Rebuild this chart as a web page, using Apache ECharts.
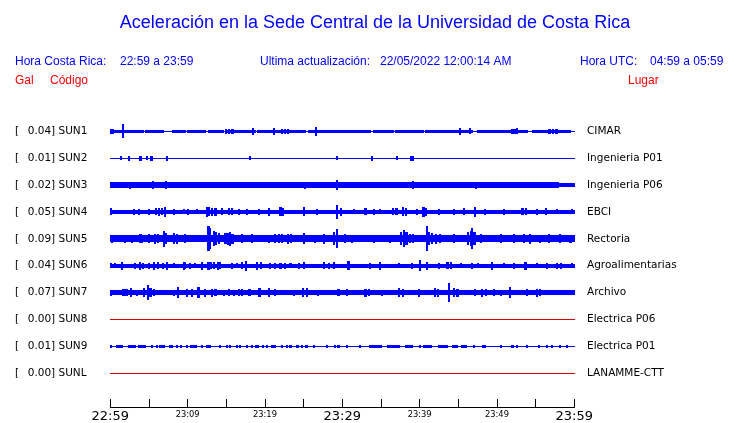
<!DOCTYPE html>
<html><head><meta charset="utf-8">
<script src="https://cdn.jsdelivr.net/npm/echarts@6/dist/echarts.min.js"></script>
<style>html,body{margin:0;padding:0;background:#fff}#c{width:740px;height:423px}</style>
</head><body><div id="c"></div><script>
// ---------------- data ----------------
const codes = ['SUN1','SUN2','SUN3','SUN4','SUN5','SUN6','SUN7','SUN8','SUN9','SUNL'];
const peakGal = ['0.04','0.01','0.02','0.05','0.09','0.04','0.07','0.00','0.01','0.00'];
const places = ['CIMAR','Ingenieria P01','Ingenieria P06','EBCI','Rectoria','Agroalimentarias','Archivo','Electrica P06','Electrica P01','LANAMME-CTT'];
const tickMinutes = [0,10,20,30,40,50,60];
const tickLabels = ['22:59','23:09','23:19','23:29','23:39','23:49','23:59'];
const majorLabels = ['22:59','23:29','23:59'];
const headerTitle = 'Aceleración en la Sede Central de la Universidad de Costa Rica';
const hdrLocalLabel = 'Hora Costa Rica:', hdrLocalRange = '22:59 a 23:59';
const hdrUpdLabel = 'Ultima actualización:', hdrUpdValue = '22/05/2022 12:00:14 AM';
const hdrUtcLabel = 'Hora UTC:', hdrUtcRange = '04:59 a 05:59';
const colGal = 'Gal', colCode = 'Código', colPlace = 'Lugar';

// traces: continuous bands [startMin, endMin, halfAmp] and bursts [min, halfAmp, durationMin]
const sun1Band = [[0,4.3,1.4],[4.5,6.9,1.4],[8.0,9.7,1.4],[10.0,12.3,1.4],[12.7,14.6,1.4],[15.1,18.8,1.4],[19.0,25.2,1.4],[25.6,30.4,1.4],[30.6,33.6,1.4],[34.0,36.6,1.4],[36.9,40.5,1.4],[40.8,46.8,1.4],[47.5,53.9,1.4],[54.6,59.5,1.4]];
const sun1Spikes = [[0.2,2.2,0.3],[1.6,6.5],[15.0,2.0],[15.4,2.2],[15.8,1.8],[18.5,3.0],[21.2,3.0],[22.2,2.0],[22.6,2.2],[23.0,1.8],[26.6,3.7],[45.2,3.0],[46.5,2.5],[52.0,2.0],[52.4,2.2],[52.6,2.5],[56.8,2.0],[57.2,2.0],[57.7,2.2]];
const sun2Band = [];
const sun2Spikes = [[1.4,1.3],[2.4,2.0],[3.9,2.0],[4.7,1.3],[5.3,2.0,0.3],[7.3,2.0],[18.1,1.3],[29.3,1.5],[33.8,2.0],[37.1,1.5],[39.0,2.0,0.3]];
const sun3Band = [[0,58,2.2],[58,60,1.6]];
const sun3Spikes = [[2.5,3.0],[3.9,2.8],[4.8,2.8],[5.5,3.2],[7.2,3.6],[25.2,3.0],[29.3,4.5],[39.1,3.2],[47.3,3.0]];
const sun4Band = [[0,60,1.7]];
const sun4Spikes = [[0.1,3.0],[3.1,2.5],[3.7,2.5],[5.0,2.5],[5.9,3.0],[6.3,3.5],[6.7,3.0],[7.1,4.8],[8.2,2.5],[9.5,2.0],[10.1,2.5],[11.2,2.0],[12.5,4.7],[12.8,4.0],[13.1,3.5],[13.6,3.5],[14.4,3.0],[15.3,3.0],[15.7,3.0],[16.6,2.5],[17.7,2.5],[19.2,2.5],[20.5,3.5],[22.0,4.0],[22.3,3.5],[25.1,4.0],[26.7,2.5],[29.3,7.0],[29.8,3.5],[31.5,2.0],[33.0,3.0],[34.1,2.5],[34.9,2.0],[36.6,3.0],[37.0,3.0],[37.9,4.0],[38.2,3.5],[39.7,2.5],[40.5,4.5],[40.8,3.5],[42.5,2.5],[44.4,2.5],[45.7,3.0],[47.2,5.0],[48.5,2.5],[50.9,2.5],[53.3,3.0],[53.8,3.0],[55.2,2.5],[56.3,3.0],[57.8,2.0],[59.7,2.0]];
const sun5Band = [[0,60,3.0]];
const sun5Spikes = [[0.2,3.5],[1.9,3.5],[2.8,3.5],[3.9,4.0],[4.1,3.8],[5.0,4.0],[5.8,4.5],[6.2,4.0],[6.9,7.5],[7.2,5.0],[8.2,5.0],[8.6,4.5],[9.7,4.0],[12.7,12.0],[12.9,10.0],[13.4,7.0],[13.7,6.0],[14.1,5.0],[14.9,5.0],[15.2,5.5],[15.5,6.5],[15.8,4.5],[17.0,4.0],[18.3,4.0],[20.5,3.5],[21.3,4.0],[21.8,4.0],[22.2,4.0],[23.0,4.5],[23.4,4.0],[25.0,5.0],[26.5,3.5],[27.6,4.5],[28.9,6.0],[29.3,9.0],[30.4,4.0],[31.3,3.5],[34.1,3.5],[36.2,3.5],[37.6,6.0],[38.0,8.0],[38.3,6.0],[38.8,4.0],[39.1,4.0],[40.9,12.0],[41.2,6.0],[41.6,5.0],[42.1,4.5],[42.6,4.0],[44.4,4.0],[46.3,6.0],[46.6,7.0],[46.8,10.0],[47.1,6.0],[47.9,4.0],[50.5,4.0],[52.2,4.0],[53.5,4.0],[54.3,4.5],[55.6,3.5],[56.7,4.0],[58.2,4.0],[59.5,3.5]];
const sun6Band = [[0,60,1.5]];
const sun6Spikes = [[0.1,2.0],[0.6,2.0],[1.5,3.5],[3.2,2.5],[3.8,3.5],[4.2,2.5],[5.0,2.5],[5.6,3.5],[6.2,3.0],[6.8,2.5],[7.3,3.5],[8.2,2.0],[9.5,3.5],[9.7,3.0],[10.3,2.5],[11.0,2.0],[11.9,3.5],[12.7,3.5],[13.0,3.0],[13.4,3.0],[13.9,3.5],[14.2,3.0],[15.7,2.5],[16.4,2.0],[17.0,3.0],[17.5,4.7],[19.0,3.5],[19.5,3.0],[20.7,2.5],[21.3,2.5],[22.0,2.5],[22.6,2.5],[23.3,2.0],[24.4,2.5],[25.1,3.0],[27.6,3.0],[28.3,2.5],[28.9,3.0],[30.8,4.0],[33.6,2.5],[34.9,3.5],[37.3,2.0],[39.0,2.5],[40.1,5.3],[41.0,3.5],[42.5,2.5],[43.6,3.0],[44.1,3.0],[45.3,2.0],[46.8,2.5],[47.6,2.0],[49.4,3.5],[50.9,2.0],[52.2,2.5],[53.7,3.5],[55.2,2.0],[56.5,2.5],[57.8,2.5],[58.3,2.5],[59.7,2.0]];
const sun7Band = [[0,60,1.7]];
const sun7Spikes = [[0.1,2.5],[0.9,2.0],[1.7,3.0],[2.1,3.0],[2.7,4.5],[3.5,2.5],[4.4,4.0],[4.9,7.5],[5.2,4.0],[5.7,3.0],[7.8,2.0],[8.2,2.5],[8.8,5.5],[9.9,3.5],[10.6,3.5],[11.4,5.0],[12.2,3.5],[13.2,3.5],[13.6,3.0],[14.7,2.5],[15.3,3.0],[16.0,2.5],[16.6,3.0],[17.0,3.0],[18.0,3.0],[19.3,4.5],[20.5,4.5],[21.3,3.0],[22.9,2.0],[23.7,2.5],[24.9,4.0],[25.4,4.0],[26.9,2.5],[29.5,3.0],[30.6,3.0],[31.9,2.0],[33.0,3.5],[33.4,3.0],[35.1,2.5],[37.3,4.0],[37.8,3.5],[39.9,3.5],[41.0,2.0],[42.0,4.0],[42.4,3.5],[43.8,9.3],[44.4,4.0],[44.9,3.5],[47.2,3.0],[48.1,3.5],[48.6,3.0],[49.6,3.0],[50.5,2.5],[51.7,5.0],[53.9,3.0],[55.2,3.5],[55.6,3.0],[57.3,2.0]];
const sun8Band = [];
const sun8Spikes = [];
const sun9Band = [];
const sun9Spikes = [[0.1,1.0],[0.9,1.0],[1.3,1.0,0.6],[2.8,1.0,0.9],[4.1,1.0,0.9],[5.4,1.0],[6.0,1.0],[6.7,1.0,0.6],[7.8,1.0,0.4],[8.6,1.0],[9.1,1.0],[9.9,1.0],[10.5,1.0],[11.0,1.0,0.4],[11.9,1.0],[12.7,1.0,0.5],[14.2,1.0],[15.1,1.0],[15.5,1.0],[16.4,1.0],[16.8,1.0],[17.7,1.0],[18.3,1.0],[19.0,1.0,0.4],[19.8,1.0],[20.3,1.0],[21.1,1.0,0.5],[22.2,1.0],[22.9,1.0],[23.3,1.0],[24.2,1.0],[24.8,1.0],[25.4,1.0,0.3],[26.3,1.0],[28.0,1.0],[29.1,1.0],[29.5,1.0],[30.6,1.0],[32.3,1.0],[33.6,1.0],[34.3,1.0,1.5],[36.6,1.0,1.6],[38.6,1.0,0.9],[40.1,1.0],[41.0,1.0,1.0],[42.5,1.0],[43.1,1.0,1.1],[44.6,1.0,0.7],[45.7,1.0,0.7],[47.0,1.0],[48.3,1.0,0.4],[50.5,1.0],[52.0,1.0],[52.6,1.0],[53.9,1.0],[55.4,1.0],[56.5,1.0],[57.1,1.0],[58.2,1.0],[59.1,1.0]];
const sunLBand = [];
const sunLSpikes = [];

// ---------------- styles ----------------
const BLUE = '#0000ff', RED = '#ff0000', TRACE_RED = '#dd0000';
const traceColors = [BLUE,BLUE,BLUE,BLUE,BLUE,BLUE,BLUE,TRACE_RED,BLUE,TRACE_RED];
const ROW_STEP = 27;      // value-axis units between trace baselines
const SPIKE_DUR = 0.15;   // default burst duration (minutes)
const LBL_FONT = 'DejaVu Sans';
const HDR_FONT = 'Liberation Sans';

const bands = [sun1Band,sun2Band,sun3Band,sun4Band,sun5Band,sun6Band,sun7Band,sun8Band,sun9Band,sunLBand];
const spikes = [sun1Spikes,sun2Spikes,sun3Spikes,sun4Spikes,sun5Spikes,sun6Spikes,sun7Spikes,sun8Spikes,sun9Spikes,sunLSpikes];

const traceData = [];
codes.forEach((c, i) => {
  traceData.push([i, 0, 60, 0]);
  bands[i].forEach(b => traceData.push([i, b[0], b[1], b[2]]));
  spikes[i].forEach(s => {
    const d = s.length > 2 ? s[2] : SPIKE_DUR;
    traceData.push([i, s[0] - d / 2, s[0] + d / 2, s[1]]);
  });
});

function renderTrace(params, api) {
  const row = api.value(0), m0 = api.value(1), m1 = api.value(2), amp = api.value(3);
  const yc = row * ROW_STEP;
  const p0 = api.coord([m0, yc - amp]);
  const p1 = api.coord([m1, yc + amp]);
  let x0 = Math.floor(Math.min(p0[0], p1[0])), x1 = Math.ceil(Math.max(p0[0], p1[0]));
  if (x1 - x0 < 1) x1 = x0 + 1;
  let y0 = Math.floor(Math.min(p0[1], p1[1])), y1 = Math.ceil(Math.max(p0[1], p1[1]));
  if (y1 - y0 < 1) y1 = y0 + 1;
  return { type: 'rect', shape: { x: x0, y: y0, width: x1 - x0, height: y1 - y0 },
           style: { fill: traceColors[row] } };
}

const chart = echarts.init(document.getElementById('c'), null, { renderer: 'canvas' });
const hdrText = (x, y, text, size, color, align) => ({
  type: 'text', x: x, y: y, silent: true,
  style: { text: text, fill: color, font: size + 'px "' + HDR_FONT + '"', align: align || 'left', verticalAlign: 'middle' }
});

chart.setOption({
  animation: false,
  backgroundColor: '#fff',
  grid: { left: 110.3, width: 464, top: 118, height: 270 },
  xAxis: {
    type: 'value', min: 0, max: 60, interval: 5, offset: 21,
    axisLine: { onZero: false, lineStyle: { color: '#000', width: 1 } },
    axisTick: { inside: true, length: 8.5, lineStyle: { color: '#000', width: 1 } },
    splitLine: { show: false },
    axisLabel: {
      margin: 1, color: '#000', showMinLabel: true, showMaxLabel: true,
      formatter: v => {
        const k = tickMinutes.indexOf(v);
        if (k < 0) return '';
        const t = tickLabels[k];
        return majorLabels.indexOf(t) >= 0 ? '{big|' + t + '}' : '{small|' + t + '}';
      },
      rich: {
        big: { fontFamily: LBL_FONT, fontSize: 13, color: '#000', lineHeight: 15, padding: [1,0,0,0] },
        small: { fontFamily: LBL_FONT, fontSize: 8.3, color: '#000', lineHeight: 12, padding: [1,0,0,0] }
      }
    }
  },
  yAxis: [
    { type: 'category', data: codes, inverse: true, position: 'left',
      axisLine: { show: false }, axisTick: { show: false }, splitLine: { show: false },
      axisLabel: { align: 'left', margin: 95.3, color: '#000', fontFamily: LBL_FONT, fontSize: 10.5,
        formatter: (v) => { const i = codes.indexOf(v); return '{br|[}' + peakGal[i] + '] ' + v; },
        rich: { br: { width: 12.7, fontFamily: LBL_FONT, fontSize: 10.5, color: '#000' } } } },
    { type: 'category', data: places, inverse: true, position: 'right',
      axisLine: { show: false }, axisTick: { show: false }, splitLine: { show: false },
      axisLabel: { align: 'left', margin: 12.7, color: '#000', fontFamily: LBL_FONT, fontSize: 10.5 } },
    { type: 'value', min: -ROW_STEP / 2, max: ROW_STEP * (codes.length - 0.5), inverse: true, show: false }
  ],
  series: [{
    type: 'custom', xAxisIndex: 0, yAxisIndex: 2, renderItem: renderTrace,
    data: traceData, silent: true, clip: false
  }],
  graphic: [
    hdrText(375, 23, headerTitle, 18, BLUE, 'center'),
    hdrText(15, 62, hdrLocalLabel, 12, BLUE),
    hdrText(120, 62, hdrLocalRange, 12, BLUE),
    hdrText(260, 62, hdrUpdLabel, 12, BLUE),
    hdrText(380, 62, hdrUpdValue, 12, BLUE),
    hdrText(580, 62, hdrUtcLabel, 12, BLUE),
    hdrText(650, 62, hdrUtcRange, 12, BLUE),
    hdrText(15, 81, colGal, 12, RED),
    hdrText(50, 81, colCode, 12, RED),
    hdrText(628, 81, colPlace, 12, RED)
  ]
});
</script></body></html>
